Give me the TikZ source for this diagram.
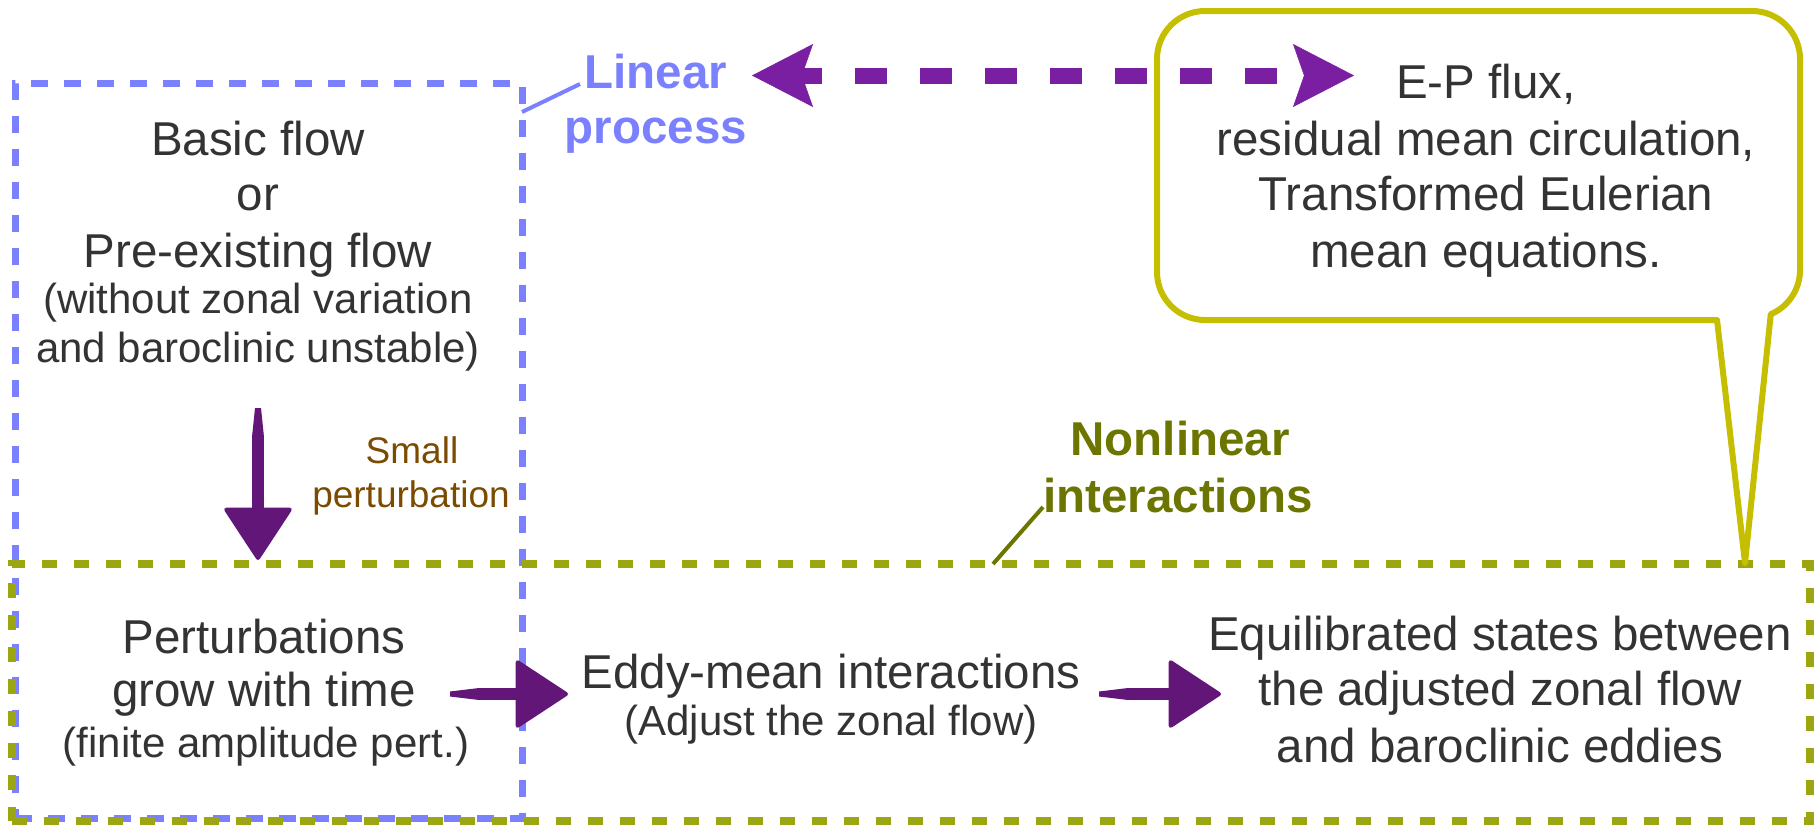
\documentclass[tikz,border=0pt]{standalone}
\usepackage{fontspec}
\setmainfont{Liberation Sans}
\usetikzlibrary{arrows.meta}
\definecolor{txt}{HTML}{333333}
\definecolor{bluebox}{HTML}{7B80FF}
\definecolor{greenbox}{HTML}{9CA611}
\definecolor{callout}{HTML}{C6BE00}
\definecolor{purpdash}{HTML}{7B1FA2}
\definecolor{darkpurp}{HTML}{621678}
\definecolor{olivetxt}{HTML}{6B7500}
\definecolor{browntxt}{HTML}{7A4B00}
\begin{document}
\begin{tikzpicture}[x=1pt,y=-1pt,
  mainline/.style={anchor=base, text=txt, inner sep=0pt, font=\fontsize{47.5}{56}\selectfont},
  subline/.style={anchor=base, text=txt, inner sep=0pt, font=\fontsize{42}{48}\selectfont},
  boldlabel/.style={anchor=base, inner sep=0pt, font=\fontsize{47.5}{56}\selectfont\bfseries},
  smalllabel/.style={anchor=base, inner sep=0pt, text=browntxt, font=\fontsize{37}{44}\selectfont},
  linbox/.style={draw=bluebox, line width=7pt, dash pattern=on 17pt off 16pt, inner sep=0pt},
  nonlinbox/.style={draw=greenbox, line width=8pt, dash pattern=on 15pt off 17pt, inner sep=0pt},
  brush/.style={draw=darkpurp, line width=12pt, shorten <=28pt, -{Triangle[length=54pt,width=70pt,round,line width=4pt]}},
  tail/.style={fill=darkpurp},
  epflow/.style={draw=purpdash, line width=16pt, dash pattern=on 32pt off 33pt, dash phase=12pt,
     {Stealth[length=61pt,width=63pt,inset=11pt,line width=0.5pt]}-{Stealth[length=61pt,width=63pt,inset=11pt,line width=0.5pt]}},
  leader/.style={line width=4pt}
]
\useasboundingbox (0,0) rectangle (1814,825);

% boxes
\node[linbox, minimum width=507pt, minimum height=735pt] (lin) at (268.5,450.5) {};
\node[nonlinbox, minimum width=1798pt, minimum height=257pt] (nonlin) at (911,692.5) {};

% callout
\draw[callout, line width=6pt, line join=round]
  (1745,563) coordinate (ctip) -- (1717,320) -- (1205,320)
  arc[start angle=90, end angle=180, radius=48] -- (1157,59)
  arc[start angle=180, end angle=270, radius=48] -- (1752,11)
  arc[start angle=270, end angle=360, radius=48] -- (1800,270)
  arc[start angle=0, end angle=67, radius=48] -- cycle;

% left block text
\node[mainline] (b1) at (258,155) {Basic flow};
\node[mainline] (b2) at (258,210) {or};
\node[mainline] (b3) at (258,267) {Pre-existing flow};
\node[subline]  (b4) at (258,313) {(without zonal variation};
\node[subline]  (b5) at (258,362) {and baroclinic unstable)};

% perturbations
\node[mainline] (p1) at (264,653) {Perturbations};
\node[mainline] (p2) at (264,706) {grow with time};
\node[subline]  (p3) at (266,757) {(finite amplitude pert.)};

% eddy-mean
\node[mainline] (e1) at (831,688) {Eddy-mean interactions};
\node[subline]  (e2) at (831,735) {(Adjust the zonal flow)};

% equilibrated
\node[mainline] (q1) at (1500,650) {Equilibrated states between};
\node[mainline] (q2) at (1500,705) {the adjusted zonal flow};
\node[mainline] (q3) at (1500,762) {and baroclinic eddies};

% callout text
\node[mainline] (c1) at (1486,98) {E-P flux,};
\node[mainline] (c2) at (1486,155) {residual mean circulation,};
\node[mainline] (c3) at (1486,210) {Transformed Eulerian};
\node[mainline] (c4) at (1486,267) {mean equations.};

% labels
\node[boldlabel, text=bluebox] (lp1) at (656,88) {Linear};
\node[boldlabel, text=bluebox] (lp2) at (656,143) {process};
\node[boldlabel, text=olivetxt] (ni1) at (1180,455) {Nonlinear};
\node[boldlabel, text=olivetxt] (ni2) at (1178,512) {interactions};
\node[smalllabel] (sp1) at (412,463) {Small};
\node[smalllabel] (sp2) at (411,507) {perturbation};

% leaders
\coordinate (linc) at (522,112);
\coordinate (lpa) at (580,84);
\draw[leader, bluebox] (linc) -- (lpa);
\coordinate (nlc) at (993,564);
\coordinate (nia) at (1043,507);
\draw[leader, olivetxt] (nlc) -- (nia);

% E-P dashed double arrow
\coordinate (epl) at (752,75.5);
\coordinate (epr) at (1354,75.5);
\draw[epflow] (epl) -- (epr);

% brush arrows (tapered tails)
\coordinate (dtop) at (258,408);
\fill[tail] (dtop) ++(-3,0) -- ++(6,0) -- ++(3,29) -- ++(-12,0) -- cycle;
\draw[brush] (dtop) -- (dtop |- nonlin.north);
\coordinate (h1s) at (450,694);
\coordinate (h1e) at (568,694);
\fill[tail] (h1s) ++(0,-2.5) -- ++(29,-3.5) -- ++(0,12) -- ++(-29,-3.5) -- cycle;
\draw[brush] (h1s) -- (h1e);
\coordinate (h2s) at (1099,694);
\coordinate (h2e) at (1221,694);
\fill[tail] (h2s) ++(0,-2.5) -- ++(29,-3.5) -- ++(0,12) -- ++(-29,-3.5) -- cycle;
\draw[brush] (h2s) -- (h2e);
\end{tikzpicture}
\end{document}
